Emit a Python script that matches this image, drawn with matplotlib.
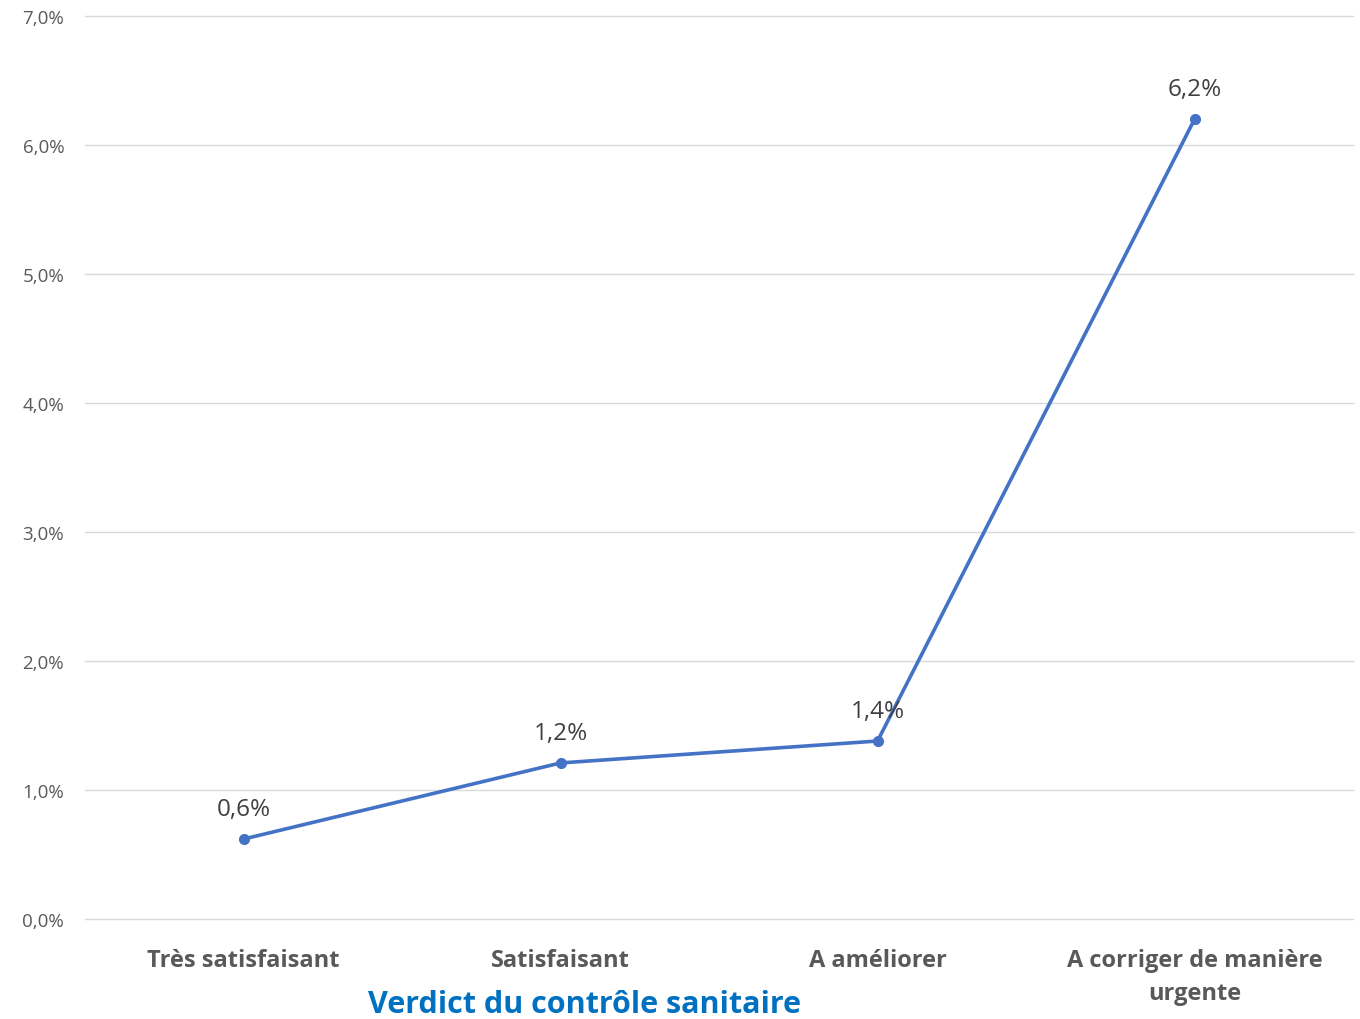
import matplotlib.pyplot as plt
from matplotlib.ticker import FuncFormatter

plt.rcParams['font.family'] = ['Open Sans', 'DejaVu Sans']

# données
categories = ["Très satisfaisant", "Satisfaisant", "A améliorer",
              "A corriger de manière\nurgente"]
values = [0.62, 1.21, 1.38, 6.2]
labels = ["0,6%", "1,2%", "1,4%", "6,2%"]

fig = plt.figure(figsize=(13.6, 10.2), dpi=100)
ax = fig.add_axes([0.0625, 0.098, 0.9324, 0.8853])

x = range(len(categories))
ax.plot(x, values, color='#4472C4', linewidth=2.6, marker='o',
        markersize=7, zorder=3)

for i, v in enumerate(values):
    ax.annotate(labels[i], (i, v), xytext=(0, 13), textcoords='offset points',
                ha='center', va='bottom', fontsize=17.5, color='#404040')

ax.set_xlim(-0.5, len(categories) - 0.5)
ax.set_ylim(0, 7)
ax.set_yticks(range(0, 8))
ax.yaxis.set_major_formatter(FuncFormatter(lambda v, p: f"{v:.1f}%".replace('.', ',')))
ax.set_xticks(list(x))
ax.set_xticklabels(categories, fontsize=17, fontweight='bold', color='#595959',
                   linespacing=1.5)
ax.tick_params(axis='y', labelsize=13.5, colors='#595959', length=0, pad=15)
ax.tick_params(axis='x', length=0, pad=21)

ax.grid(axis='y', color='#D9D9D9', linewidth=1)
for gl in ax.get_ygridlines():
    gl.set_clip_on(False)
ax.set_axisbelow(True)
for s in ax.spines.values():
    s.set_visible(False)

fig.text(0.43, 0.007, "Verdict du contrôle sanitaire", ha='center', va='baseline',
         fontsize=22, fontweight='bold', color='#0070C0')

fig.savefig('out.png', dpi=100)
